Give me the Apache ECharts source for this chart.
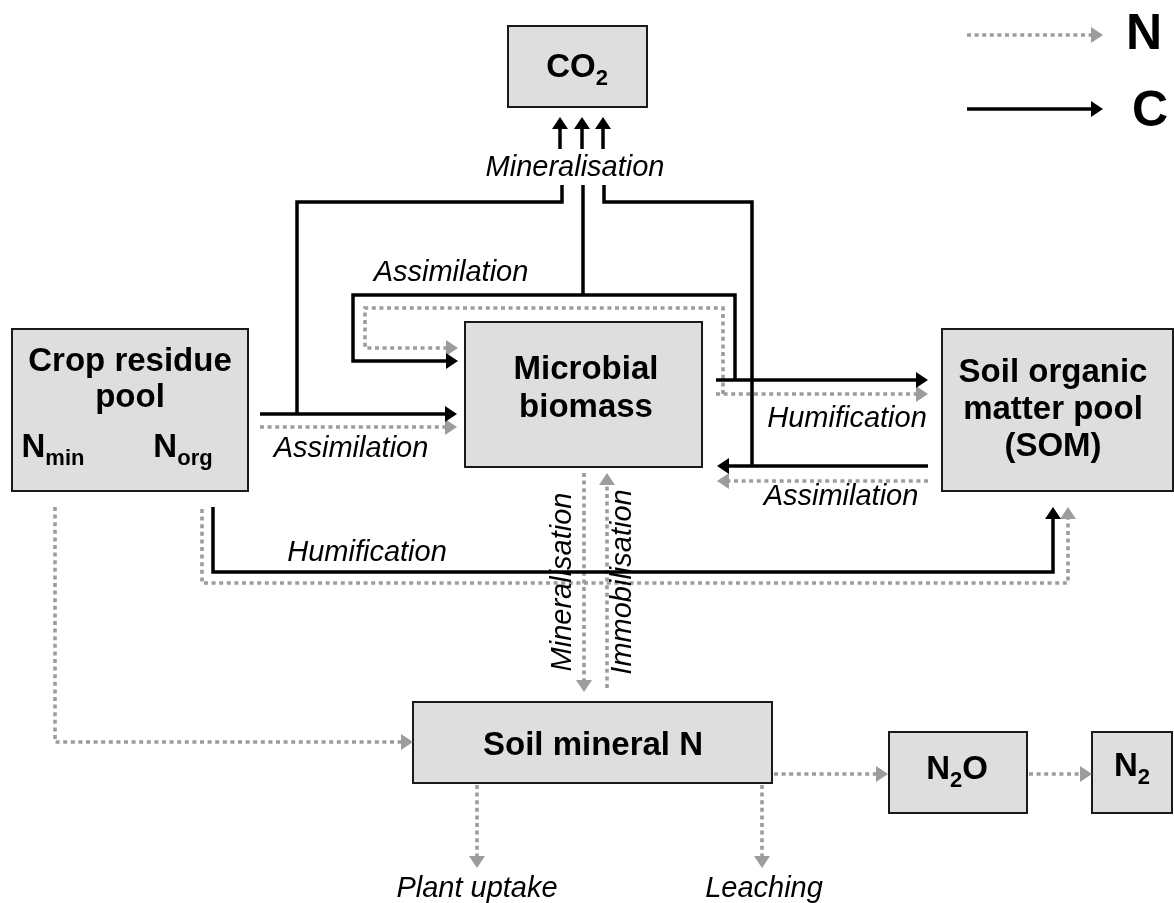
<!DOCTYPE html>
<html>
<head>
<meta charset="utf-8">
<script src="https://cdn.jsdelivr.net/npm/echarts@6/dist/echarts.min.js"></script>
<style>
  html, body { margin: 0; padding: 0; background: #fff; }
  #chart { width: 1174px; height: 903px; }
</style>
</head>
<body>
<div id="chart"></div>
<script>
// diagram units: x 0..1174, y 0..903 (y axis inverted, so y grows downwards)

// pools, as [x0, y0, x1, y1]
const poolNames = ['CO2', 'Crop residue pool', 'Microbial biomass', 'Soil organic matter pool', 'Soil mineral N', 'N2O', 'N2'];
const poolBoxes = [
  [508, 26, 647, 107],
  [12, 329, 248, 491],
  [465, 322, 702, 467],
  [942, 329, 1173, 491],
  [413, 702, 772, 783],
  [889, 732, 1027, 813],
  [1092, 732, 1172, 813]
];

// pool texts: [rich text, x, y]
const poolLabels = [
  ['{b|CO}{s|2}', 577, 68],
  ['{b|Crop residue}', 130, 362],
  ['{b|pool}', 130, 398],
  ['{b|N}{s|min}', 53, 448],
  ['{b|N}{s|org}', 183, 448],
  ['{b|Microbial}', 586, 370],
  ['{b|biomass}', 586, 408],
  ['{b|Soil organic}', 1053, 373],
  ['{b|matter pool}', 1053, 410],
  ['{b|(SOM)}', 1053, 447],
  ['{b|Soil mineral N}', 593, 746],
  ['{b|N}{s|2}{b|O}', 957, 770],
  ['{b|N}{s|2}', 1132, 767]
];

// carbon flows (solid black)
const carbonFlows = [
  { path: [[260, 414], [457, 414]], head: true },
  { path: [[297, 414], [297, 202], [562, 202], [562, 185]], head: false },
  { path: [[583, 185], [583, 295]], head: false },
  { path: [[735, 380], [735, 295], [353, 295], [353, 361], [458, 361]], head: true },
  { path: [[716, 380], [928, 380]], head: true },
  { path: [[752, 466], [752, 202], [604, 202], [604, 185]], head: false },
  { path: [[928, 466], [717, 466]], head: true },
  { path: [[213, 507], [213, 572], [1053, 572], [1053, 507]], head: true },
  { path: [[560, 149], [560, 117]], head: true },
  { path: [[582, 149], [582, 117]], head: true },
  { path: [[603, 149], [603, 117]], head: true }
];

// nitrogen flows (grey dotted)
const nitrogenFlows = [
  { path: [[260, 427], [457, 427]], head: true },
  { path: [[723, 394], [723, 308], [365, 308], [365, 348], [458, 348]], head: true },
  { path: [[716, 394], [928, 394]], head: true },
  { path: [[928, 481], [717, 481]], head: true },
  { path: [[202, 509], [202, 583], [1068, 583], [1068, 507]], head: true },
  { path: [[55, 507], [55, 742], [413, 742]], head: true },
  { path: [[584, 473], [584, 692]], head: true },
  { path: [[607, 688], [607, 473]], head: true },
  { path: [[774, 774], [888, 774]], head: true },
  { path: [[1029, 774], [1092, 774]], head: true },
  { path: [[477, 785], [477, 868]], head: true },
  { path: [[762, 785], [762, 868]], head: true }
];

// legend
const legendN = [{ path: [[967, 35], [1103, 35]], head: true }];
const legendC = [{ path: [[967, 109], [1103, 109]], head: true }];
const legendLabels = [['N', 1144, 35], ['C', 1150, 112]];

// process names: [text, x, y, rotation]
const processLabels = [
  ['Mineralisation', 575, 168, 0],
  ['Assimilation', 451, 273, 0],
  ['Assimilation', 351, 449, 0],
  ['Humification', 847, 419, 0],
  ['Assimilation', 841, 497, 0],
  ['Humification', 367, 553, 0],
  ['Mineralisation', 563, 582, 90],
  ['Immobilisation', 623, 582, 90],
  ['Plant uptake', 477, 889, 0],
  ['Leaching', 764, 889, 0]
];

const FONT = '"Liberation Sans", Arial, Helvetica, sans-serif';
const HEAD_LEN = 12;
const HEAD_W = 16;

function flowRender(flows, lineStyle, headColor) {
  return function (params, api) {
    const f = flows[api.value(2)];
    const pts = f.path.map(function (p) { return api.coord(p); });
    const children = [];
    if (f.head) {
      const n = pts.length;
      const tip = pts[n - 1], prev = pts[n - 2];
      const dx = tip[0] - prev[0], dy = tip[1] - prev[1];
      const len = Math.sqrt(dx * dx + dy * dy);
      const ux = dx / len, uy = dy / len;
      const bx = tip[0] - ux * HEAD_LEN, by = tip[1] - uy * HEAD_LEN;
      pts[n - 1] = [bx + ux, by + uy];
      children.push({
        type: 'polygon',
        shape: { points: [tip, [bx - uy * HEAD_W / 2, by + ux * HEAD_W / 2], [bx + uy * HEAD_W / 2, by - ux * HEAD_W / 2]] },
        style: { fill: headColor }
      });
    }
    children.unshift({
      type: 'polyline',
      shape: { points: pts },
      style: Object.assign({ fill: null, lineJoin: 'miter', lineCap: 'butt' }, lineStyle)
    });
    return { type: 'group', children: children };
  };
}

function textRender(list, baseStyle) {
  return function (params, api) {
    const t = list[api.value(2)];
    const p = api.coord([t[1], t[2]]);
    return {
      type: 'text',
      x: p[0],
      y: p[1],
      rotation: (t[3] || 0) * Math.PI / 180,
      style: Object.assign({ text: t[0], align: 'center', verticalAlign: 'middle', fill: '#000' }, baseStyle)
    };
  };
}

function idx(list, getPt) {
  return list.map(function (d, i) { const p = getPt(d); return [p[0], p[1], i]; });
}

const solid = { stroke: '#000', lineWidth: 3.5 };
const dotted = { stroke: '#9c9c9c', lineWidth: 3.6, lineDash: [4, 3.6] };

const boldRich = {
  b: { fontSize: 33, fontWeight: 'bold', fontFamily: FONT, lineHeight: 44, verticalAlign: 'middle', fill: '#000' },
  s: { fontSize: 22, fontWeight: 'bold', fontFamily: FONT, lineHeight: 22, verticalAlign: 'bottom', fill: '#000' }
};

const allN = nitrogenFlows.concat(legendN);
const allC = carbonFlows.concat(legendC);

const chart = echarts.init(document.getElementById('chart'));
chart.setOption({
  animation: false,
  backgroundColor: '#fff',
  grid: { left: 0, right: 0, top: 0, bottom: 0, containLabel: false },
  xAxis: { type: 'value', min: 0, max: 1174, show: false },
  yAxis: { type: 'value', min: 0, max: 903, inverse: true, show: false },
  series: [
    {
      name: 'pools',
      type: 'custom',
      silent: true,
      clip: false,
      data: idx(poolBoxes, function (b) { return b; }),
      renderItem: function (params, api) {
        const b = poolBoxes[api.value(2)];
        const p0 = api.coord([b[0], b[1]]);
        const p1 = api.coord([b[2], b[3]]);
        return {
          type: 'rect',
          shape: { x: p0[0], y: p0[1], width: p1[0] - p0[0], height: p1[1] - p0[1] },
          style: { fill: '#dedede', stroke: '#1a1a1a', lineWidth: 2 }
        };
      }
    },
    {
      name: 'N',
      type: 'custom',
      silent: true,
      clip: false,
      data: idx(allN, function (f) { return f.path[0]; }),
      renderItem: flowRender(allN, dotted, '#9c9c9c')
    },
    {
      name: 'C',
      type: 'custom',
      silent: true,
      clip: false,
      data: idx(allC, function (f) { return f.path[0]; }),
      renderItem: flowRender(allC, solid, '#000')
    },
    {
      name: 'pool labels',
      type: 'custom',
      silent: true,
      clip: false,
      data: idx(poolLabels, function (t) { return [t[1], t[2]]; }),
      renderItem: textRender(poolLabels, { rich: boldRich, fontSize: 33, fontWeight: 'bold', fontFamily: FONT })
    },
    {
      name: 'process labels',
      type: 'custom',
      silent: true,
      clip: false,
      data: idx(processLabels, function (t) { return [t[1], t[2]]; }),
      renderItem: textRender(processLabels, { fontSize: 29, fontStyle: 'italic', fontFamily: FONT })
    },
    {
      name: 'legend labels',
      type: 'custom',
      silent: true,
      clip: false,
      data: idx(legendLabels, function (t) { return [t[1], t[2]]; }),
      renderItem: textRender(legendLabels, { fontSize: 50, fontWeight: 'bold', fontFamily: FONT })
    }
  ]
});
</script>
</body>
</html>
